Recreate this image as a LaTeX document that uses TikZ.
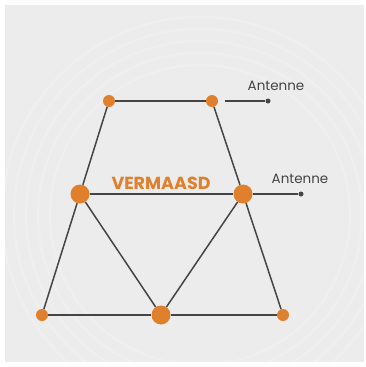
\documentclass[tikz,border=0pt]{standalone}
\usepackage{fontspec}
\setmainfont{Poppins}
\definecolor{bgGray}{HTML}{EDECEC}
\definecolor{lineGray}{HTML}{454545}
\definecolor{nodeOrange}{HTML}{E07F2C}
\definecolor{txtGray}{HTML}{444444}
\tikzset{
  edge/.style={draw=lineGray, line width=1.5pt},
  small/.style={circle, fill=nodeOrange, inner sep=0pt, minimum size=12pt},
  big/.style={circle, fill=nodeOrange, inner sep=0pt, minimum size=19pt},
  tip/.style={circle, fill=lineGray, inner sep=0pt, minimum size=5pt},
  lbl/.style={text=txtGray, font=\fontsize{13.5}{15}\selectfont, inner sep=0pt},
  ring/.style={draw=white, opacity=0.18, line width=2.5pt},
}
\begin{document}
\begin{tikzpicture}[x=1pt, y=-1pt]
  \useasboundingbox (0,0) rectangle (366,367);
  \fill[white] (0,0) rectangle (366,367);
  \fill[bgGray] (5,5) rectangle (364,362);
  % faint rings in the backdrop
  \begin{scope}
    \clip (5,5) rectangle (364,362);
    \foreach \r in {150,162,174,186,198}
      \draw[ring] (200,215) circle (\r);
  \end{scope}
  % nodes
  \node[small] (tl) at (109,101) {};
  \node[small] (tr) at (212,101) {};
  \node[big]   (ml) at (80,194) {};
  \node[big]   (mr) at (243,194) {};
  \node[small] (bl) at (42,315) {};
  \node[big]   (bm) at (161,315) {};
  \node[small] (br) at (283,315) {};
  % frame edges
  \draw[edge] (tl) -- (tr);
  \draw[edge] (tl) -- (ml);
  \draw[edge] (tr) -- (mr);
  \draw[edge] (ml) -- (mr);
  \draw[edge] (ml) -- (bl);
  \draw[edge] (ml) -- (bm);
  \draw[edge] (mr) -- (bm);
  \draw[edge] (mr) -- (br);
  \draw[edge] (bl) -- (bm);
  \draw[edge] (bm) -- (br);
  % antennas
  \coordinate (a1s) at (225,101);
  \node[tip] (a1) at (268,101) {};
  \draw[edge] (a1s) -- (a1);
  \node[lbl] (a1l) at (276,86) {Antenne};
  \node[tip] (a2) at (301,194) {};
  \draw[edge] (mr) -- (a2);
  \node[lbl] (a2l) at (300,179) {Antenne};
  % title
  \node[text=nodeOrange, font=\fontsize{17.5}{20}\selectfont\bfseries, inner sep=0pt] (title) at (161,183) {VERMAASD};
\end{tikzpicture}
\end{document}
